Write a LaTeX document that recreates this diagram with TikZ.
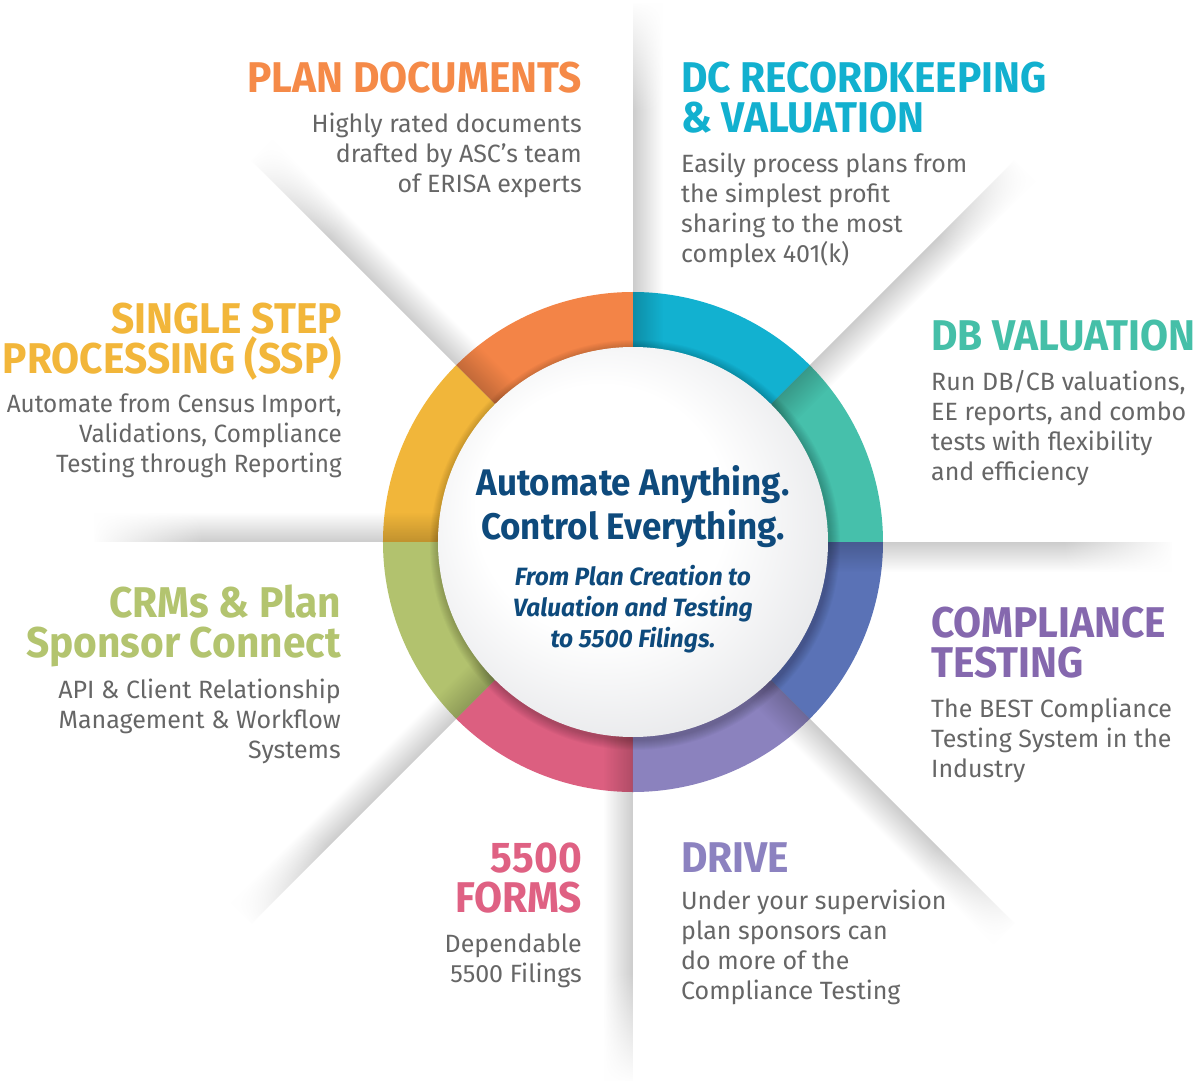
\documentclass[tikz,border=0pt]{standalone}
\usepackage{fontspec}
\setmainfont{Fira Sans}
\newfontfamily\hdfam{Fira Sans}[FakeStretch=0.945]
\newfontfamily\subfam{Fira Sans}[FakeStretch=0.98]
\newfontfamily\narrowfam{Fira Sans}[FakeStretch=0.97]
\usetikzlibrary{fadings}
\definecolor{segorange}{HTML}{F38447}
\definecolor{segcyan}{HTML}{12B1D0}
\definecolor{segteal}{HTML}{46C0AB}
\definecolor{segblue}{HTML}{5A72B6}
\definecolor{segpurple}{HTML}{8B82BE}
\definecolor{segpink}{HTML}{DC5F80}
\definecolor{seggreen}{HTML}{B2C26E}
\definecolor{segyellow}{HTML}{F1B63A}
\definecolor{hdorange}{HTML}{F58A48}
\definecolor{hdcyan}{HTML}{12B0CF}
\definecolor{hdteal}{HTML}{45BFA8}
\definecolor{hdpurple}{HTML}{8568AE}
\definecolor{hdlav}{HTML}{8C82C0}
\definecolor{hdpink}{HTML}{DF6183}
\definecolor{hdgreen}{HTML}{B3C46F}
\definecolor{hdyellow}{HTML}{F2B63A}
\definecolor{navy}{HTML}{0E4A7C}
\definecolor{bodygray}{HTML}{666666}
\definecolor{ballgray}{HTML}{E0E1E4}
\tikzfading[name=acrossfade, top color=transparent!0, bottom color=transparent!100]
\tikzfading[name=endfade, left color=transparent!100, right color=transparent!0]
\pgfdeclareradialshading{innerball}{\pgfpoint{-6bp}{6bp}}{color(0bp)=(white); color(16bp)=(white); color(34bp)=(ballgray); color(50bp)=(ballgray)}
\newcommand\hdfont{\hdfam\bfseries\fontsize{43}{40}\selectfont}
\newcommand\bdfont{\fontsize{25}{30}\selectfont}
\newcommand\ctrfont{\hdfam\bfseries\fontsize{37}{44}\selectfont}
\newcommand\subfont{\subfam\bfseries\itshape\fontsize{25}{31}\selectfont}
\newcommand\rblock[1]{\vtop{\halign{\hfil##\cr#1\crcr}}}
\newcommand\lblock[1]{\vtop{\halign{##\hfil\cr#1\crcr}}}
\newcommand\cblock[1]{\vtop{\halign{\hfil##\hfil\cr#1\crcr}}}
\tikzset{
  heading/.style={font=\hdfont, inner sep=0pt},
  body/.style={font=\bdfont, text=bodygray, inner sep=0pt},
  raybandshade/.style={black, fill opacity=0.2, path fading=acrossfade},
  rayendfade/.style={white, path fading=endfade},
}
\begin{document}
\begin{tikzpicture}[x=1pt,y=1pt]
\useasboundingbox[fill=white] (-633,-543) rectangle (567,542);
% ring segments
\foreach \a/\c in {0/segteal,45/segcyan,90/segorange,135/segyellow,180/seggreen,225/segpink,270/segpurple,315/segblue}{
  \fill[\c] (\a:250) arc[start angle=\a, end angle=\a+45, radius=250]
     -- ({\a+45}:185) arc[start angle=\a+45, end angle=\a, radius=185] -- cycle;
}
% folded-paper rays
\foreach \a in {0,45,...,315}{
  \begin{scope}[transform canvas={rotate=\a}]
    \fill[raybandshade] (0,0) rectangle (540,-30);
    \fill[rayendfade] (430,1) rectangle (541,-31);
  \end{scope}
}
% shadow of the hub
\foreach \r in {196,...,205}{
  \fill[black, fill opacity=0.022] (2,-3) circle[radius=\r];
}
\node[circle, minimum size=390pt, inner sep=0pt, shading=innerball] (hub) at (0,0) {};
% centre text
\node[font=\ctrfont, text=navy, inner sep=0pt, anchor=base] (slogan) at (0,47)
  {\cblock{Automate Anything.\cr Control Everything.}};
\node[font=\subfont, text=navy, inner sep=0pt, anchor=base] (subslogan) at (0,-43)
  {\cblock{From Plan Creation to\cr Valuation and Testing\cr to 5500 Filings.}};
% plan documents
\node[heading, text=hdorange, anchor=base east] (plandocH) at (-51,449) {\rblock{PLAN DOCUMENTS}};
\node[body, anchor=base east] (plandocB) at (-51,409) {\rblock{Highly rated documents\cr drafted by ASC’s team\cr of ERISA experts}};
% DC recordkeeping
\node[heading, text=hdcyan, anchor=base west] (dcH) at (48,449) {\lblock{DC RECORDKEEPING\cr \& VALUATION}};
\node[body, anchor=base west] (dcB) at (48,369) {\lblock{Easily process plans from\cr the simplest profit\cr sharing to the most\cr complex 401(k)}};
% DB valuation
\node[heading, text=hdteal, anchor=base west] (dbH) at (298,192) {\lblock{DB VALUATION}};
\node[body, anchor=base west] (dbB) at (298,152) {\lblock{Run DB/CB valuations,\cr EE reports, and combo\cr tests with flexibility\cr and efficiency}};
% compliance testing
\node[heading, text=hdpurple, anchor=base west] (ctH) at (298,-95) {\lblock{COMPLIANCE\cr TESTING}};
\node[body, anchor=base west] (ctB) at (298,-175) {\lblock{The BEST Compliance\cr Testing System in the\cr Industry}};
% drive
\node[heading, text=hdlav, anchor=base west] (drH) at (48,-330) {\lblock{DRIVE}};
\node[body, anchor=base west] (drB) at (48,-367) {\lblock{Under your supervision\cr plan sponsors can\cr do more of the\cr Compliance Testing}};
% 5500 forms
\node[heading, text=hdpink, anchor=base east] (fmH) at (-51,-330) {\rblock{5500\cr FORMS}};
\node[body, anchor=base east] (fmB) at (-51,-410) {\rblock{Dependable\cr 5500 Filings}};
% CRMs
\node[heading, text=hdgreen, anchor=base east] (crH) at (-292,-75) {\rblock{CRMs \& Plan\cr Sponsor Connect}};
\node[body, anchor=base east] (crB) at (-292,-156) {\rblock{API \& Client Relationship\cr Management \& Workflow\cr Systems}};
% single step processing
\node[heading, text=hdyellow, anchor=base east] (ssH) at (-291,209) {\rblock{SINGLE STEP\cr PROCESSING (SSP)}};
\node[body, font=\narrowfam\bdfont, anchor=base east] (ssB) at (-291,130) {\rblock{Automate from Census Import,\cr Validations, Compliance\cr Testing through Reporting}};
\end{tikzpicture}
\end{document}
